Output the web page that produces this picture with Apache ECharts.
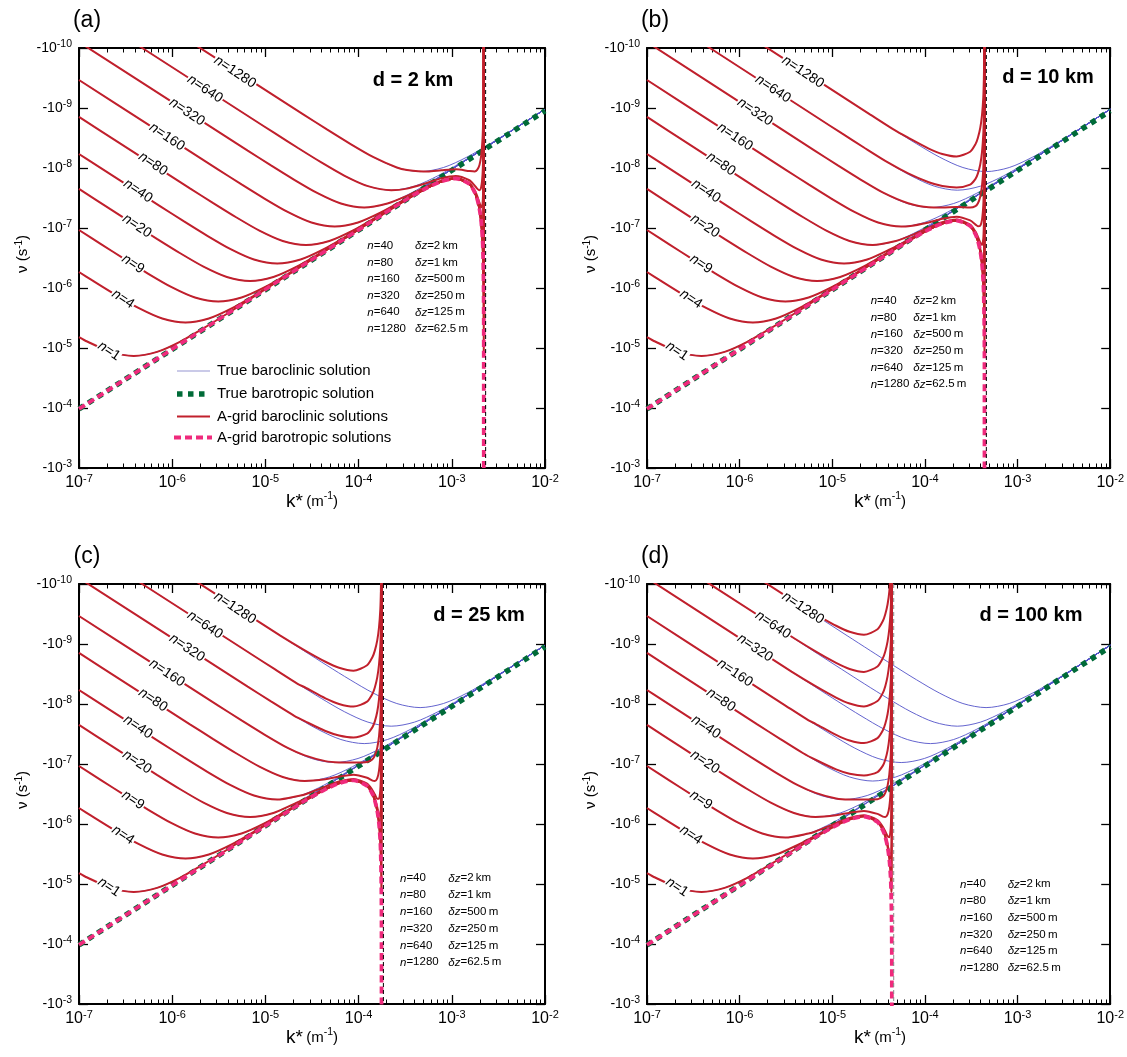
<!DOCTYPE html>
<html><head><meta charset="utf-8">
<script src="https://cdn.jsdelivr.net/npm/echarts@6/dist/echarts.min.js"></script>
<style>html,body{margin:0;padding:0;background:#fff}#c{width:1127px;height:1057px}</style>
</head><body><div id="c"></div>
<script>
// ---- values (log10 units: x = log10 k*, y = log10 |nu|) ----
const nValues = [1, 4, 9, 20, 40, 80, 160, 320, 640, 1280];
const panelNames = ['(a)', '(b)', '(c)', '(d)'];
const gridSpacingLabels = ['d = 2 km', 'd = 10 km', 'd = 25 km', 'd = 100 km'];
const xTickExponents = [-7, -6, -5, -4, -3, -2];
const yTickExponents = [-10, -9, -8, -7, -6, -5, -4, -3];
const xMinorTicks = [
  -6.699,-6.523,-6.398,-6.301,-6.222,-6.155,-6.097,-6.046,
  -5.699,-5.523,-5.398,-5.301,-5.222,-5.155,-5.097,-5.046,
  -4.699,-4.523,-4.398,-4.301,-4.222,-4.155,-4.097,-4.046,
  -3.699,-3.523,-3.398,-3.301,-3.222,-3.155,-3.097,-3.046,
  -2.699,-2.523,-2.398,-2.301,-2.222,-2.155,-2.097,-2.046];
const cutoffDashLogK = [-2.637, -3.337, -3.734, -4.337];
const tableN = ['40', '80', '160', '320', '640', '1280'];
const tableDz = ['2\u2009km', '1\u2009km', '500\u2009m', '250\u2009m', '125\u2009m', '62.5\u2009m'];

const trueBarotropic = [[-7, -3.985], [-2, -8.955]];

const trueN1 = [[-7,-5.183],[-6.912,-5.108],[-6.662,-4.936],[-6.412,-4.868],[-6.162,-4.936],[-5.912,-5.108],[-5.662,-5.331],[-5.412,-5.571],[-5.162,-5.818],[-4.912,-6.067],[-4.412,-6.567],[-2,-8.979]];
const trueN4 = [[-7,-6.267],[-6.857,-6.126],[-6.607,-5.886],[-6.357,-5.663],[-6.107,-5.491],[-5.857,-5.423],[-5.607,-5.491],[-5.357,-5.663],[-5.107,-5.886],[-4.857,-6.126],[-4.607,-6.373],[-4.357,-6.622],[-3.857,-7.122],[-2,-8.979]];
const trueN9 = [[-7,-6.967],[-6.756,-6.724],[-6.506,-6.477],[-6.256,-6.237],[-6.006,-6.014],[-5.756,-5.842],[-5.506,-5.774],[-5.256,-5.842],[-5.006,-6.014],[-4.756,-6.237],[-4.506,-6.477],[-4.256,-6.724],[-4.006,-6.973],[-3.506,-7.473],[-2,-8.979]];
const trueN20 = [[-7,-7.651],[-6.664,-7.315],[-6.414,-7.066],[-6.164,-6.819],[-5.914,-6.579],[-5.664,-6.356],[-5.414,-6.184],[-5.164,-6.116],[-4.914,-6.184],[-4.664,-6.356],[-4.414,-6.579],[-4.164,-6.819],[-3.914,-7.066],[-3.664,-7.315],[-3.164,-7.815],[-2,-8.979]];
const trueN40 = [[-7,-8.233],[-6.873,-8.106],[-6.373,-7.606],[-6.123,-7.357],[-5.873,-7.110],[-5.623,-6.870],[-5.373,-6.647],[-5.123,-6.475],[-4.873,-6.407],[-4.623,-6.475],[-4.373,-6.647],[-4.123,-6.870],[-3.873,-7.110],[-3.623,-7.357],[-3.373,-7.606],[-2.873,-8.106],[-2,-8.979]];
const trueN80 = [[-7,-8.851],[-6.564,-8.415],[-6.064,-7.915],[-5.814,-7.666],[-5.564,-7.419],[-5.314,-7.179],[-5.064,-6.956],[-4.814,-6.784],[-4.564,-6.716],[-4.314,-6.784],[-4.064,-6.956],[-3.814,-7.179],[-3.564,-7.419],[-3.314,-7.666],[-3.064,-7.915],[-2.564,-8.415],[-2,-8.979]];
const trueN160 = [[-7,-9.467],[-6.256,-8.723],[-5.756,-8.223],[-5.506,-7.974],[-5.256,-7.727],[-5.006,-7.487],[-4.756,-7.264],[-4.506,-7.092],[-4.256,-7.024],[-4.006,-7.092],[-3.756,-7.264],[-3.506,-7.487],[-3.256,-7.727],[-3.006,-7.974],[-2.756,-8.223],[-2.256,-8.723],[-2,-8.979]];
const trueN320 = [[-7,-10.099],[-5.94,-9.039],[-5.44,-8.539],[-5.19,-8.290],[-4.94,-8.043],[-4.69,-7.803],[-4.44,-7.580],[-4.19,-7.408],[-3.94,-7.340],[-3.69,-7.408],[-3.44,-7.580],[-3.19,-7.803],[-2.94,-8.043],[-2.69,-8.290],[-2.44,-8.539],[-2,-8.979]];
const trueN640 = [[-7,-10.679],[-5.65,-9.329],[-5.15,-8.829],[-4.90,-8.580],[-4.65,-8.333],[-4.40,-8.093],[-4.15,-7.870],[-3.90,-7.698],[-3.65,-7.630],[-3.40,-7.698],[-3.15,-7.870],[-2.90,-8.093],[-2.65,-8.333],[-2.40,-8.580],[-2,-8.979]];
const trueN1280 = [[-7,-11.299],[-5.34,-9.639],[-4.84,-9.139],[-4.59,-8.890],[-4.34,-8.643],[-4.09,-8.403],[-3.84,-8.180],[-3.59,-8.008],[-3.34,-7.940],[-3.09,-8.008],[-2.84,-8.180],[-2.59,-8.403],[-2.34,-8.643],[-2,-8.980]];
const trueBaroclinic = [trueN1, trueN4, trueN9, trueN20, trueN40, trueN80, trueN160, trueN320, trueN640, trueN1280];

// A-grid baroclinic: part near the cut-off (earlier part coincides with the true curve)
const redTailA = [
 [[-3.481,-7.482],[-3.259,-7.674],[-3.113,-7.775],[-2.958,-7.825],[-2.812,-7.733],[-2.754,-7.594],[-2.728,-7.482],[-2.703,-7.315],[-2.684,-7.098],[-2.670,-6.798],[-2.664,-6.498],[-2.659,-6.021],[-2.657,-5.335],[-2.657,-4.868],[-2.657,-10.5]],
 [[-3.481,-7.482],[-3.259,-7.674],[-3.113,-7.775],[-2.958,-7.825],[-2.812,-7.733],[-2.754,-7.594],[-2.728,-7.482],[-2.703,-7.315],[-2.684,-7.098],[-2.670,-6.798],[-2.664,-6.498],[-2.659,-6.028],[-2.657,-5.468],[-2.657,-5.423],[-2.657,-10.5]],
 [[-3.481,-7.482],[-3.259,-7.674],[-3.113,-7.775],[-2.958,-7.825],[-2.812,-7.733],[-2.754,-7.594],[-2.728,-7.482],[-2.703,-7.315],[-2.684,-7.098],[-2.670,-6.798],[-2.664,-6.502],[-2.659,-6.055],[-2.657,-5.800],[-2.657,-5.774],[-2.657,-10.5]],
 [[-3.481,-7.482],[-3.259,-7.674],[-3.113,-7.775],[-2.958,-7.825],[-2.812,-7.733],[-2.754,-7.594],[-2.728,-7.482],[-2.703,-7.315],[-2.684,-7.099],[-2.670,-6.803],[-2.664,-6.516],[-2.659,-6.163],[-2.658,-6.116],[-2.657,-6.351],[-2.657,-10.5]],
 [[-3.481,-7.483],[-3.259,-7.675],[-3.113,-7.775],[-2.958,-7.825],[-2.812,-7.734],[-2.754,-7.595],[-2.728,-7.483],[-2.703,-7.317],[-2.684,-7.102],[-2.670,-6.816],[-2.664,-6.564],[-2.659,-6.415],[-2.657,-6.902],[-2.657,-10.5]],
 [[-3.481,-7.485],[-3.259,-7.675],[-3.113,-7.776],[-2.958,-7.826],[-2.812,-7.734],[-2.754,-7.596],[-2.728,-7.485],[-2.703,-7.322],[-2.684,-7.116],[-2.670,-6.867],[-2.664,-6.723],[-2.659,-6.875],[-2.657,-7.511],[-2.657,-10.5]],
 [[-3.481,-7.495],[-3.259,-7.679],[-3.113,-7.778],[-2.958,-7.828],[-2.812,-7.737],[-2.754,-7.602],[-2.728,-7.495],[-2.703,-7.343],[-2.684,-7.169],[-2.670,-7.031],[-2.664,-7.080],[-2.659,-7.442],[-2.657,-8.125],[-2.657,-10.5]],
 [[-3.481,-7.535],[-3.259,-7.697],[-3.113,-7.789],[-2.958,-7.837],[-2.812,-7.750],[-2.754,-7.627],[-2.728,-7.535],[-2.703,-7.422],[-2.684,-7.344],[-2.670,-7.404],[-2.664,-7.615],[-2.659,-8.061],[-2.657,-8.757],[-2.657,-10.5]],
 [[-3.481,-7.656],[-3.259,-7.755],[-3.113,-7.827],[-2.958,-7.867],[-2.812,-7.796],[-2.754,-7.706],[-2.728,-7.656],[-2.703,-7.630],[-2.684,-7.689],[-2.670,-7.896],[-2.664,-8.169],[-2.659,-8.638],[-2.657,-9.336],[-2.657,-10.5]],
 [[-3.481,-7.968],[-3.259,-7.941],[-3.113,-7.961],[-2.958,-7.978],[-2.812,-7.950],[-2.754,-7.942],[-2.728,-7.968],[-2.703,-8.051],[-2.684,-8.215],[-2.670,-8.489],[-2.664,-8.782],[-2.659,-9.257],[-2.657,-9.956],[-2.657,-10.5]]
];
const redTailB = [
 [[-4.181,-6.782],[-3.959,-6.974],[-3.813,-7.075],[-3.658,-7.125],[-3.512,-7.033],[-3.454,-6.894],[-3.428,-6.782],[-3.403,-6.615],[-3.384,-6.398],[-3.370,-6.098],[-3.364,-5.799],[-3.359,-5.334],[-3.357,-4.872],[-3.357,-10.5]],
 [[-4.181,-6.782],[-3.959,-6.974],[-3.813,-7.075],[-3.658,-7.125],[-3.512,-7.033],[-3.454,-6.894],[-3.428,-6.782],[-3.403,-6.615],[-3.384,-6.399],[-3.370,-6.104],[-3.364,-5.817],[-3.359,-5.467],[-3.358,-5.423],[-3.357,-5.663],[-3.357,-10.5]],
 [[-4.181,-6.783],[-3.959,-6.974],[-3.813,-7.075],[-3.658,-7.125],[-3.512,-7.033],[-3.454,-6.895],[-3.428,-6.783],[-3.403,-6.617],[-3.384,-6.404],[-3.370,-6.123],[-3.364,-5.886],[-3.359,-5.800],[-3.357,-6.333],[-3.357,-10.5]],
 [[-4.181,-6.787],[-3.959,-6.976],[-3.813,-7.076],[-3.658,-7.126],[-3.512,-7.035],[-3.454,-6.897],[-3.428,-6.787],[-3.403,-6.626],[-3.384,-6.427],[-3.370,-6.203],[-3.364,-6.117],[-3.359,-6.352],[-3.357,-7.010],[-3.357,-10.5]],
 [[-4.181,-6.801],[-3.959,-6.982],[-3.813,-7.080],[-3.658,-7.129],[-3.512,-7.039],[-3.454,-6.905],[-3.428,-6.801],[-3.403,-6.655],[-3.384,-6.499],[-3.370,-6.407],[-3.364,-6.509],[-3.359,-6.903],[-3.357,-7.591],[-3.357,-10.5]],
 [[-4.181,-6.856],[-3.959,-7.006],[-3.813,-7.095],[-3.658,-7.141],[-3.512,-7.058],[-3.454,-6.939],[-3.428,-6.856],[-3.403,-6.761],[-3.384,-6.717],[-3.370,-6.823],[-3.364,-7.057],[-3.359,-7.512],[-3.357,-8.208],[-3.357,-10.5]],
 [[-4.181,-7.028],[-3.959,-7.093],[-3.813,-7.153],[-3.658,-7.188],[-3.512,-7.126],[-3.454,-7.057],[-3.428,-7.028],[-3.403,-7.037],[-3.384,-7.136],[-3.370,-7.372],[-3.364,-7.654],[-3.359,-8.126],[-3.357,-8.824],[-3.357,-10.5]],
 [[-4.181,-7.412],[-3.959,-7.345],[-3.813,-7.342],[-3.658,-7.349],[-3.512,-7.340],[-3.454,-7.364],[-3.428,-7.412],[-3.403,-7.521],[-3.384,-7.702],[-3.370,-7.986],[-3.364,-8.281],[-3.359,-8.757],[-3.357,-9.456],[-3.357,-10.5]],
 [[-4.181,-7.910],[-3.959,-7.762],[-3.813,-7.701],[-3.658,-7.677],[-3.512,-7.724],[-3.454,-7.819],[-3.428,-7.910],[-3.403,-8.059],[-3.384,-8.266],[-3.370,-8.562],[-3.364,-8.860],[-3.359,-9.337],[-3.357,-10.036],[-3.357,-10.5]],
 [[-4.181,-8.505],[-3.959,-8.324],[-3.813,-8.234],[-3.658,-8.192],[-3.512,-8.271],[-3.454,-8.398],[-3.428,-8.505],[-3.403,-8.667],[-3.384,-8.881],[-3.370,-9.180],[-3.364,-9.480],[-3.359,-9.957],[-3.357,-10.5]]
];
const redTailC = [
 [[-4.578,-6.385],[-4.356,-6.577],[-4.210,-6.678],[-4.055,-6.728],[-3.909,-6.636],[-3.851,-6.497],[-3.825,-6.385],[-3.800,-6.218],[-3.781,-6.001],[-3.767,-5.704],[-3.761,-5.410],[-3.756,-5.001],[-3.755,-4.868],[-3.754,-4.994],[-3.754,-10.5]],
 [[-4.578,-6.386],[-4.356,-6.577],[-4.210,-6.678],[-4.055,-6.728],[-3.909,-6.636],[-3.851,-6.498],[-3.825,-6.386],[-3.800,-6.221],[-3.781,-6.008],[-3.767,-5.731],[-3.761,-5.507],[-3.759,-5.423],[-3.756,-5.467],[-3.754,-6.026],[-3.754,-10.5]],
 [[-4.578,-6.392],[-4.356,-6.580],[-4.210,-6.679],[-4.055,-6.729],[-3.909,-6.638],[-3.851,-6.501],[-3.825,-6.392],[-3.800,-6.232],[-3.781,-6.037],[-3.767,-5.832],[-3.761,-5.779],[-3.756,-6.055],[-3.754,-6.722],[-3.754,-10.5]],
 [[-4.578,-6.416],[-4.356,-6.590],[-4.210,-6.686],[-4.055,-6.734],[-3.909,-6.646],[-3.851,-6.515],[-3.825,-6.416],[-3.800,-6.281],[-3.781,-6.155],[-3.767,-6.130],[-3.761,-6.289],[-3.756,-6.713],[-3.754,-7.405],[-3.754,-10.5]],
 [[-4.578,-6.491],[-4.356,-6.624],[-4.210,-6.708],[-4.055,-6.752],[-3.909,-6.672],[-3.851,-6.563],[-3.825,-6.491],[-3.800,-6.421],[-3.781,-6.420],[-3.767,-6.574],[-3.761,-6.828],[-3.756,-7.290],[-3.754,-7.987],[-3.754,-10.5]],
 [[-4.578,-6.718],[-4.356,-6.746],[-4.210,-6.791],[-4.055,-6.821],[-3.909,-6.771],[-3.851,-6.724],[-3.825,-6.718],[-3.800,-6.760],[-3.781,-6.889],[-3.767,-7.145],[-3.761,-7.433],[-3.756,-7.906],[-3.754,-8.605],[-3.754,-10.5]],
 [[-4.578,-7.144],[-4.356,-7.048],[-4.210,-7.026],[-4.055,-7.024],[-3.909,-7.033],[-3.851,-7.081],[-3.825,-7.144],[-3.800,-7.269],[-3.781,-7.460],[-3.767,-7.749],[-3.761,-8.046],[-3.756,-8.522],[-3.754,-9.221],[-3.754,-10.5]],
 [[-4.578,-7.714],[-4.356,-7.550],[-4.210,-7.476],[-4.055,-7.443],[-3.909,-7.505],[-3.851,-7.615],[-3.825,-7.714],[-3.800,-7.870],[-3.781,-8.081],[-3.767,-8.378],[-3.761,-8.677],[-3.756,-9.154],[-3.754,-9.853],[-3.754,-10.5]],
 [[-4.578,-8.279],[-4.356,-8.094],[-4.210,-8.001],[-4.055,-7.957],[-3.909,-8.040],[-3.851,-8.170],[-3.825,-8.279],[-3.800,-8.443],[-3.781,-8.658],[-3.767,-8.957],[-3.761,-9.257],[-3.756,-9.734],[-3.754,-10.5]],
 [[-4.578,-8.894],[-4.356,-8.704],[-4.210,-8.605],[-4.055,-8.556],[-3.909,-8.646],[-3.851,-8.783],[-3.825,-8.894],[-3.800,-9.061],[-3.781,-9.277],[-3.767,-9.577],[-3.761,-9.877],[-3.754,-10.5]]
];
const redTailD = [
 [[-5.181,-5.784],[-4.959,-5.975],[-4.813,-6.075],[-4.658,-6.125],[-4.512,-6.034],[-4.454,-5.895],[-4.428,-5.784],[-4.403,-5.618],[-4.384,-5.407],[-4.370,-5.135],[-4.364,-4.927],[-4.362,-4.868],[-4.359,-4.933],[-4.357,-5.518],[-4.357,-10.5]],
 [[-5.181,-5.802],[-4.959,-5.983],[-4.813,-6.080],[-4.658,-6.129],[-4.512,-6.040],[-4.454,-5.906],[-4.428,-5.802],[-4.403,-5.657],[-4.384,-5.506],[-4.370,-5.426],[-4.364,-5.534],[-4.359,-5.934],[-4.357,-6.622],[-4.357,-10.5]],
 [[-5.181,-5.876],[-4.959,-6.015],[-4.813,-6.101],[-4.658,-6.146],[-4.512,-6.065],[-4.454,-5.952],[-4.428,-5.876],[-4.403,-5.797],[-4.384,-5.780],[-4.370,-5.919],[-4.364,-6.167],[-4.359,-6.627],[-4.357,-7.324],[-4.357,-10.5]],
 [[-5.181,-6.118],[-4.959,-6.145],[-4.813,-6.189],[-4.658,-6.218],[-4.512,-6.169],[-4.454,-6.124],[-4.428,-6.118],[-4.403,-6.161],[-4.384,-6.291],[-4.370,-6.548],[-4.364,-6.836],[-4.359,-7.309],[-4.357,-8.008],[-4.357,-10.5]],
 [[-5.181,-6.518],[-4.959,-6.425],[-4.813,-6.409],[-4.658,-6.409],[-4.512,-6.413],[-4.454,-6.457],[-4.428,-6.518],[-4.403,-6.640],[-4.384,-6.830],[-4.370,-7.118],[-4.364,-7.415],[-4.359,-7.891],[-4.357,-8.590],[-4.357,-10.5]],
 [[-5.181,-7.071],[-4.959,-6.910],[-4.813,-6.837],[-4.658,-6.807],[-4.512,-6.866],[-4.454,-6.973],[-4.428,-7.071],[-4.403,-7.226],[-4.384,-7.436],[-4.370,-7.733],[-4.364,-8.032],[-4.359,-8.509],[-4.357,-9.208],[-4.357,-10.5]],
 [[-5.181,-7.670],[-4.959,-7.486],[-4.813,-7.392],[-4.658,-7.348],[-4.512,-7.431],[-4.454,-7.561],[-4.428,-7.670],[-4.403,-7.834],[-4.384,-8.049],[-4.370,-8.348],[-4.364,-8.648],[-4.359,-9.125],[-4.357,-10.5]],
 [[-5.181,-8.297],[-4.959,-8.107],[-4.813,-8.008],[-4.658,-7.959],[-4.512,-8.049],[-4.454,-8.186],[-4.428,-8.297],[-4.403,-8.464],[-4.384,-8.680],[-4.370,-8.980],[-4.364,-9.280],[-4.357,-10.5]],
 [[-5.181,-8.876],[-4.959,-8.685],[-4.813,-8.584],[-4.658,-8.535],[-4.512,-8.626],[-4.454,-8.765],[-4.428,-8.876],[-4.403,-9.043],[-4.384,-9.260],[-4.370,-9.560],[-4.364,-9.860],[-4.357,-10.5]],
 [[-5.181,-9.496],[-4.959,-9.304],[-4.813,-9.203],[-4.658,-9.153],[-4.512,-9.245],[-4.454,-9.384],[-4.428,-9.496],[-4.403,-9.663],[-4.384,-9.880],[-4.357,-10.5]]
];
const pinkA = [[-7,-3.985],[-3.481,-7.482],[-3.259,-7.674],[-3.113,-7.775],[-2.958,-7.825],[-2.812,-7.733],[-2.754,-7.594],[-2.728,-7.482],[-2.703,-7.315],[-2.684,-7.098],[-2.670,-6.798],[-2.664,-6.498],[-2.659,-6.021],[-2.657,-5.322],[-2.657,-2.5]];
const pinkB = [[-7,-3.985],[-4.181,-6.782],[-3.959,-6.974],[-3.813,-7.075],[-3.658,-7.125],[-3.512,-7.033],[-3.454,-6.894],[-3.428,-6.782],[-3.403,-6.615],[-3.384,-6.398],[-3.370,-6.098],[-3.364,-5.798],[-3.359,-5.321],[-3.357,-4.622],[-3.357,-2.5]];
const pinkC = [[-7,-3.985],[-4.578,-6.385],[-4.356,-6.577],[-4.210,-6.678],[-4.055,-6.728],[-3.909,-6.636],[-3.851,-6.497],[-3.825,-6.385],[-3.800,-6.218],[-3.781,-6.001],[-3.767,-5.701],[-3.761,-5.401],[-3.756,-4.924],[-3.754,-4.225],[-3.754,-2.5]];
const pinkD = [[-7,-3.985],[-5.181,-5.782],[-4.959,-5.974],[-4.813,-6.075],[-4.658,-6.125],[-4.512,-6.033],[-4.454,-5.894],[-4.428,-5.782],[-4.403,-5.615],[-4.384,-5.398],[-4.370,-5.098],[-4.364,-4.798],[-4.359,-4.321],[-4.357,-3.622],[-4.357,-2.5]];

const redTails = [redTailA, redTailB, redTailC, redTailD];
const pinks = [pinkA, pinkB, pinkC, pinkD];

// ---- layout ----
const F = "'Liberation Sans', Arial, Helvetica, sans-serif";
const grids = [
  {left: 79, top: 48, width: 466, height: 420},
  {left: 647, top: 48, width: 466, height: 420},
  {left: 79, top: 584, width: 466, height: 420},
  {left: 647, top: 584, width: 466, height: 420}
];
const offsets = [[0, 0], [568, 0], [0, 536], [568, 536]];
const curveLabelPos = [[109,351],[123,299],[133,264],[137,226],[138,191],[153,164],[167,137],[187,112],[205,89],[235,72]];
const dLabelPos = [[413,80],[1048,77],[479,615.5],[1031,615]];
const tablePos = [[367.3,415,245.7,16.65],[870.7,913.3,301,16.66],[400,448.3,878.3,16.8],[960,1007.7,884.3,16.7]];

const COL_BLUE = '#5252c8', COL_GREEN = '#006b38', COL_RED = '#c1202c', COL_PINK = '#ef2a7c';

const xRich = {b: {fontSize: 16, fontFamily: F, color: '#000', lineHeight: 20}, s: {fontSize: 11, fontFamily: F, color: '#000', lineHeight: 9, verticalAlign: 'top'}};
const yRich = {b: {fontSize: 14, fontFamily: F, color: '#000', lineHeight: 18}, s: {fontSize: 10.5, fontFamily: F, color: '#000', lineHeight: 8, verticalAlign: 'top'}};

const xAxes = [], yAxes = [], series = [], graphics = [];
const axisLine = {show: true, onZero: false, lineStyle: {color: '#000', width: 2}};
const tickStyle = {color: '#000', width: 1.3};

const txt = (x, y, style, extra) => Object.assign({type: 'text', x, y, z: 100, silent: true,
  style: Object.assign({fill: '#000', fontFamily: F, align: 'center', verticalAlign: 'middle', textAlign: 'center', textVerticalAlign: 'middle'}, style)}, extra || {});

grids.forEach((g, i) => {
  // x axes per grid: [bottom major+labels, top major, bottom minor, top minor]
  xAxes.push({type: 'value', gridIndex: i, position: 'bottom', min: -7, max: -2, axisLine,
    axisTick: {show: true, inside: true, length: 9, lineStyle: tickStyle, customValues: xTickExponents},
    axisLabel: {show: true, margin: 5, customValues: xTickExponents, formatter: v => '{b|10}{s|' + Math.round(v) + '}', rich: xRich},
    splitLine: {show: false}});
  xAxes.push({type: 'value', gridIndex: i, position: 'top', min: -7, max: -2, axisLine,
    axisTick: {show: true, inside: true, length: 9, lineStyle: tickStyle, customValues: xTickExponents},
    axisLabel: {show: false}, splitLine: {show: false}});
  ['bottom', 'top'].forEach(pos => xAxes.push({type: 'value', gridIndex: i, position: pos, min: -7, max: -2,
    axisLine: {show: false}, axisLabel: {show: false}, splitLine: {show: false},
    axisTick: {show: true, inside: true, length: 4.5, lineStyle: {color: '#000', width: 1}, customValues: xMinorTicks}}));
  yAxes.push({type: 'value', gridIndex: i, position: 'left', min: -10, max: -3, inverse: true, axisLine,
    axisTick: {show: true, inside: true, length: 9, lineStyle: tickStyle, customValues: yTickExponents},
    axisLabel: {show: true, margin: 7, customValues: yTickExponents, formatter: v => '{b|-10}{s|' + Math.round(v) + '}', rich: yRich},
    splitLine: {show: false}});
  yAxes.push({type: 'value', gridIndex: i, position: 'right', min: -10, max: -3, inverse: true, axisLine,
    axisTick: {show: true, inside: true, length: 9, lineStyle: tickStyle, customValues: yTickExponents},
    axisLabel: {show: false}, splitLine: {show: false}});

  const xi = 4 * i, yi = 2 * i;
  const base = {type: 'line', xAxisIndex: xi, yAxisIndex: yi, showSymbol: false, symbol: 'none', clip: true, silent: true, animation: false};
  trueBaroclinic.forEach(c => series.push(Object.assign({}, base, {data: c, smooth: 0.3, lineStyle: {color: COL_BLUE, width: 0.9}, z: 2})));
  series.push(Object.assign({}, base, {data: trueBarotropic, lineStyle: {color: COL_GREEN, width: 5.5, type: [5.5, 5.5], cap: 'butt'}, z: 3}));
  trueBaroclinic.forEach((c, k) => {
    const tail = redTails[i][k];
    const data = c.filter(p => p[0] < tail[0][0] - 0.04).concat(tail);
    series.push(Object.assign({}, base, {data, smooth: 0.25, lineStyle: {color: COL_RED, width: 2}, z: 4}));
  });
  series.push(Object.assign({}, base, {data: pinks[i], smooth: 0.25, lineStyle: {color: COL_PINK, width: 3.8, type: [7, 4], cap: 'butt'}, z: 5}));
  series.push(Object.assign({}, base, {data: [[cutoffDashLogK[i], -10], [cutoffDashLogK[i], -3]], lineStyle: {color: i === 3 ? '#8a8a8a' : '#000', width: 1, type: [4, 3]}, z: 6}));

  const [dx, dy] = offsets[i];
  graphics.push(txt(87 + dx, 21 + dy, {text: panelNames[i], fontSize: 23}));
  graphics.push(txt(23 + dx, 254 + dy, {text: '{a|\u03bd (s}{s|-1}{a|)}', rich: {a: {fontSize: 15, fontFamily: F, lineHeight: 18}, s: {fontSize: 10, fontFamily: F, lineHeight: 8, verticalAlign: 'top'}}}, {rotation: Math.PI / 2}));
  graphics.push(txt(312 + dx, 502 + dy, {text: '{k|k*} {m|(m}{s|-1}{m|)}', rich: {k: {fontSize: 19, fontFamily: F, lineHeight: 22}, m: {fontSize: 15, fontFamily: F, lineHeight: 22}, s: {fontSize: 10.5, fontFamily: F, lineHeight: 10, verticalAlign: 'top'}}}));
  graphics.push(txt(dLabelPos[i][0], dLabelPos[i][1], {text: gridSpacingLabels[i], fontSize: 20, fontWeight: 'bold'}));
  const tp = tablePos[i];
  tableN.forEach((n, r) => {
    const rich = {i: {fontStyle: 'italic', fontSize: 11.5, fontFamily: F}, r: {fontSize: 11.5, fontFamily: F}};
    graphics.push(txt(tp[0], tp[2] + r * tp[3], {text: '{i|n}{r|=' + n + '}', rich, align: 'left', textAlign: 'left'}));
    graphics.push(txt(tp[1], tp[2] + r * tp[3], {text: '{i|\u03b4z}{r|=' + tableDz[r] + '}', rich, align: 'left', textAlign: 'left'}));
  });
  nValues.forEach((n, k) => {
    const p = curveLabelPos[k];
    graphics.push(txt(p[0] + dx, p[1] + dy, {text: '{i|n}{r|=' + n + '}', backgroundColor: '#fff', padding: [0, 1],
      rich: {i: {fontStyle: 'italic', fontSize: 14, fontFamily: F}, r: {fontSize: 14, fontFamily: F}}}, {rotation: -0.59}));
  });
});

// legend (panel a)
const legendItems = [
  {label: 'True baroclinic solution', y: 371, stroke: '#b9b9e0', w: 1.5, dash: null, x1: 177, x2: 210},
  {label: 'True barotropic solution', y: 394, stroke: COL_GREEN, w: 5.5, dash: [5.5, 5.5], x1: 177, x2: 210},
  {label: 'A-grid baroclinic solutions', y: 416.5, stroke: COL_RED, w: 2, dash: null, x1: 177, x2: 210},
  {label: 'A-grid barotropic solutions', y: 437.5, stroke: COL_PINK, w: 3.8, dash: [7, 4], x1: 174, x2: 212}
];
legendItems.forEach(it => {
  graphics.push({type: 'line', z: 100, silent: true, shape: {x1: it.x1, y1: it.y, x2: it.x2, y2: it.y},
    style: {stroke: it.stroke, lineWidth: it.w, lineDash: it.dash, lineCap: 'butt'}});
  graphics.push({type: 'text', x: 217, y: it.y, z: 100, silent: true,
    style: {text: it.label, fill: '#000', fontSize: 15, fontFamily: F, align: 'left', verticalAlign: 'middle', textAlign: 'left', textVerticalAlign: 'middle'}});
});

const chart = echarts.init(document.getElementById('c'), null, {renderer: 'canvas'});
chart.setOption({animation: false, backgroundColor: '#fff', grid: grids, xAxis: xAxes, yAxis: yAxes, series, graphic: graphics});
</script></body></html>
